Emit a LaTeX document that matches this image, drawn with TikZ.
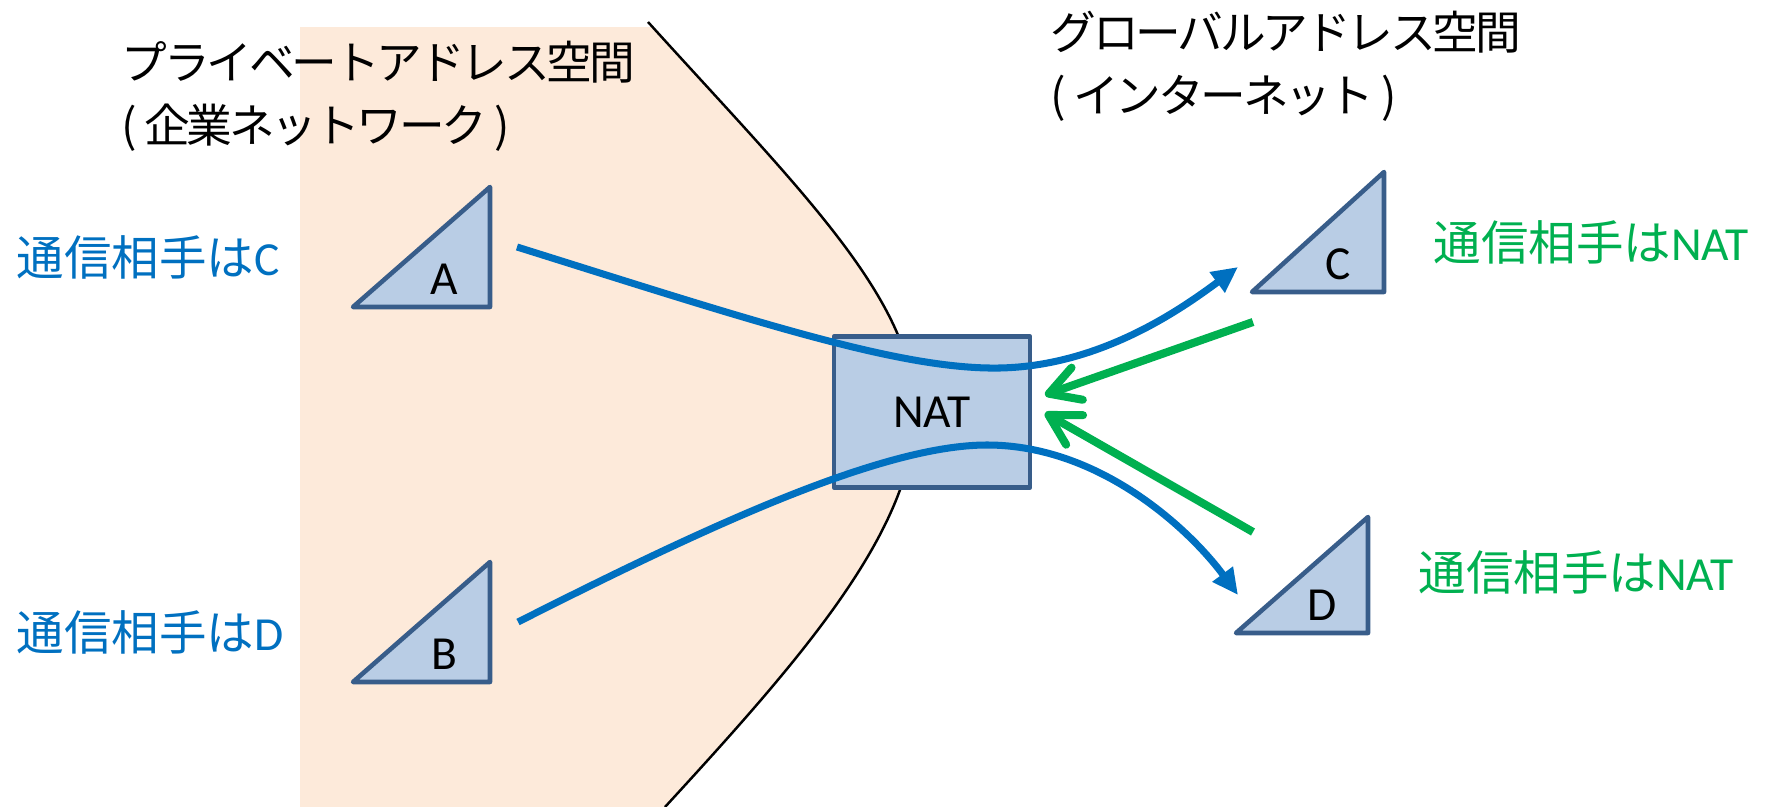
\documentclass[tikz,border=0pt]{standalone}
\usepackage{fontspec}
\setmainfont{Carlito}
\newfontfamily\jp{Noto Sans CJK JP}
\newfontfamily\jpp[CharacterWidth=Proportional,LetterSpace=-7]{Noto Sans CJK JP}
\usetikzlibrary{arrows.meta}

\definecolor{privfill}{HTML}{FDEADA}
\definecolor{hostfill}{HTML}{B9CDE5}
\definecolor{hostline}{HTML}{385D8A}
\definecolor{talkblue}{HTML}{0070C0}
\definecolor{replygreen}{HTML}{00B050}

\begin{document}
\begin{tikzpicture}[x=0.01cm,y=-0.01cm,
  host/.style={draw=hostline,fill=hostfill,line width=1.3pt,line join=round},
  lbl/.style={inner sep=0pt,font=\fontsize{13.5pt}{18pt}\selectfont},
  jlbl/.style={inner sep=0pt,font=\jpp\fontsize{13pt}{18pt}\selectfont},
  talk/.style={draw=talkblue,line width=2pt,-{Triangle[length=0.26cm,width=0.24cm]}},
  reply/.style={draw=replygreen,line width=2.3pt,-{Straight Barb[length=0.3cm,width=0.34cm,round]}}]
        \useasboundingbox (0,0) rectangle (1774,807);
        % private address space
        \begin{scope}
        \clip (300,28) rectangle (1774,807);
        \fill[privfill] (300,0) -- (648,22) .. controls (800,190) and (915,300) .. (915,412)
            .. controls (915,530) and (800,660) .. (665,807) -- (300,807) -- cycle;
        \end{scope}
        \draw[line width=0.7pt] (648,22) .. controls (800,190) and (915,300) .. (915,412)
            .. controls (915,530) and (800,660) .. (665,807);
        % hosts
        \foreach \n/\l/\r/\t/\b in {A/353/490/187/307,B/353/490/562/682,C/1252/1384/172/292,D/1236/1368/517/633}{
          \draw[host] (\l,\b) -- (\r,\t) -- (\r,\b) -- cycle;
          \node[lbl] (\n) at (\r-46,\b-28) {\n};
        }
        \node[host,lbl,minimum width=1.96cm,minimum height=1.51cm] (nat) at (932,412) {NAT};
        % titles
        \node[jlbl,anchor=west,align=left] (priv) at (121,96) {プライベートアドレス空間\\（\kern2pt 企業ネットワーク\kern2pt）};
        \node[jlbl,anchor=west,align=left] (glob) at (1050,66) {グローバルアドレス空間\\（\kern2pt インターネット\kern2pt）};
        \node[lbl,anchor=west,text=talkblue] (askC) at (16,257) {{\jp 通信相手は}C};
        \node[lbl,anchor=west,text=talkblue] (askD) at (16,632) {{\jp 通信相手は}D};
        \node[lbl,anchor=west,text=replygreen] (seeC) at (1433,242) {{\jp 通信相手は}NAT};
        \node[lbl,anchor=west,text=replygreen] (seeD) at (1418,572) {{\jp 通信相手は}NAT};
        % connectors
        \coordinate (A-out) at (517,247);
        \coordinate (B-out) at (518,622);
        \coordinate (C-in) at (1238,267);
        \coordinate (D-in) at (1238,595);
        \coordinate (C-out) at (1253,322);
        \coordinate (D-out) at (1253,532);
        \coordinate (nat-up) at (1045,395);
        \coordinate (nat-down) at (1045,413);
        \draw[talk] (A-out) .. controls (750,320) and (900,370) .. (1000,368)
            .. controls (1100,366) and (1180,310) .. (C-in);
        \draw[talk] (B-out) .. controls (700,530) and (880,445) .. (987,445)
            .. controls (1100,445) and (1190,530) .. (D-in);
        \draw[reply] (C-out) -- (nat-up);
        \draw[reply] (D-out) -- (nat-down);
\end{tikzpicture}
\end{document}
